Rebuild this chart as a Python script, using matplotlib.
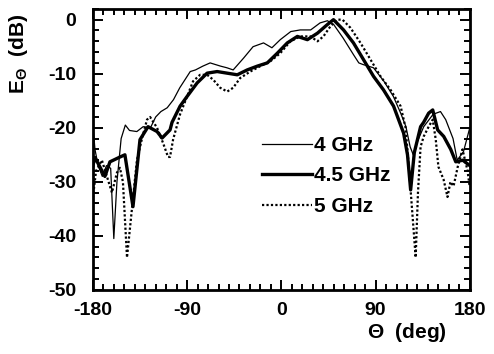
import matplotlib
matplotlib.use('Agg')
from matplotlib import pyplot as plt
from matplotlib.ticker import MultipleLocator

plt.rcParams['font.family'] = ['Liberation Sans', 'DejaVu Sans']
plt.rcParams['font.weight'] = 'bold'
plt.rcParams['axes.unicode_minus'] = False
plt.rcParams['mathtext.fontset'] = 'custom'
plt.rcParams['mathtext.rm'] = 'Liberation Sans'
plt.rcParams['mathtext.it'] = 'Liberation Sans'

# 4 GHz
theta_4 = [-180, -178, -175, -171, -167, -163, -160, -157, -153, -149, -145, -138,
           -132, -125, -120, -115, -109, -103, -97, -87, -82, -75, -68, -58, -52,
           -46, -36, -27, -17, -9, -1, 9, 18, 28, 37, 44, 50, 59, 69, 74, 78, 88,
           98, 107, 114, 119, 123, 126, 129, 136, 145, 152, 157, 164, 168, 174, 180]
e_4 = [-19.5, -24, -27, -29, -27, -27.5, -40.5, -30, -22, -19.5, -20.5, -20.7,
       -19.8, -20, -18, -17, -16.3, -14.8, -12.6, -9.6, -9.3, -8.6, -8.0, -8.6, -8.9,
       -9.3, -7.1, -5.0, -4.3, -5.2, -3.7, -2.2, -1.9, -1.9, -0.6, -0.2, -0.9, -3.4,
       -6.5, -8.0, -8.3, -8.9, -11.4, -14.2, -17.3, -19.8, -23.5, -25, -23, -19.8,
       -17.5, -17, -18.5, -22, -26, -24.4, -20]

# 4.5 GHz
theta_45 = [-180, -178, -168.5, -163.7, -154, -149.4, -141.7, -135, -127.3, -118.7,
            -113.9, -106.3, -104.4, -96.7, -90, -80.4, -70.9, -61.3, -51.7, -42.1,
            -32.6, -23, -13.4, -3.8, 5.7, 15.3, 24.9, 34.5, 44, 49.8, 59.4, 68.9,
            78.5, 88.1, 97.6, 107.2, 116.8, 120.5, 123.5, 127, 133, 135.9, 140.7,
            144.6, 149.3, 155.1, 161.8, 166.6, 173.3, 180]
e_45 = [-27, -25.5, -29, -26.3, -25.4, -25, -34.6, -22.2, -19.8, -20.7,
        -21.9, -20.4, -19, -16, -14.2, -11.7, -9.9, -9.6, -9.9, -10.2,
        -9.3, -8.6, -8, -6.2, -4.3, -3.1, -3.7, -2.5, -0.9, 0, -1.9, -4.3,
        -7.4, -10.5, -13, -16, -21, -25, -31.5, -24.6, -19.8, -19, -17.3,
        -16.7, -20.4, -21.6, -24, -26.3, -26, -27]

# 5 GHz
theta_5 = [-180, -177, -171.4, -166.6, -161.8, -157, -154.2, -151.3, -147.4, -142.7,
           -137.9, -133.1, -128.3, -125.4, -118.7, -113, -108.2, -106.3, -103.4,
           -96.7, -90, -84.3, -77.6, -70.9, -65.1, -58.4, -51.7, -46, -39.3, -29.7,
           -20.1, -10.5, -1, 8.6, 18.2, 27.8, 34.5, 40.2, 47, 53.6, 58.4, 66, 75.6,
           85.2, 94.8, 104.4, 113.9, 118.7, 122.5, 128.3, 130.5, 133, 136, 140.7,
           144.6, 147.5, 150, 155, 158.7, 161.5, 164.5, 168.5, 173, 177.7, 180]
e_5 = [-33, -28, -26, -29, -32, -28.3, -27.4, -30, -44, -35,
       -26, -22, -18.5, -18, -20, -22.8, -25.4, -25.4, -22.2,
       -17.5, -14.2, -11.4, -10.2, -10.2, -11.1, -12.6, -13.3, -12.6, -10.8, -9.6,
       -8.6, -7.7, -6.2, -4, -3.1, -3.1, -4, -3.1, -1.2, 0, 0, -1.5, -4.3,
       -7.4, -10.5, -13, -16, -20, -29, -44, -32, -23.5, -21.6, -19.8,
       -18.5, -22.2, -27.2, -29.6, -32.8, -30, -30.8, -27.2, -24, -27.8, -31]

xticks = [-180, -90, 0, 90, 180]
yticks = [-50, -40, -30, -20, -10, 0]

fig = plt.figure(figsize=(4.94, 3.54), dpi=100)
ax = fig.add_axes([0.188, 0.181, 0.763, 0.794])

line_4, = ax.plot(theta_4, e_4, color='black', lw=0.9)
line_45, = ax.plot(theta_45, e_45, color='black', lw=2.4)
line_5, = ax.plot(theta_5, e_5, color='black', lw=1.6, ls=(0, (1, 1)))

ax.set_xlim(-180, 180)
ax.set_ylim(-50, 2)
ax.set_xticks(xticks)
ax.set_yticks(yticks)
ax.xaxis.set_minor_locator(MultipleLocator(10))
ax.yaxis.set_minor_locator(MultipleLocator(2))
ax.tick_params(which='both', direction='in', top=True, right=True, width=1.4, labelsize=14)
ax.tick_params(which='major', length=7)
ax.tick_params(which='minor', length=4)
ax.tick_params(axis='y', pad=12)
ax.tick_params(axis='x', pad=9)
for s in ax.spines.values():
    s.set_linewidth(2)

ax.set_xlabel(r'$\Theta$  (deg)', fontsize=15, fontweight='bold', ha='right')
ax.xaxis.set_label_coords(0.94, -0.11)
ax.set_ylabel(r'E$_\Theta$  (dB)', fontsize=15, fontweight='bold')
ax.yaxis.set_label_coords(-0.168, 0.84)

ax.legend([line_4, line_45, line_5], ['4 GHz', '4.5 GHz', '5 GHz'], frameon=False,
          loc='upper left', bbox_to_anchor=(0.42, 0.585), fontsize=15,
          handlelength=2.4, handletextpad=0.1, labelspacing=0.55, borderpad=0)

fig.savefig('out.png', dpi=100)
